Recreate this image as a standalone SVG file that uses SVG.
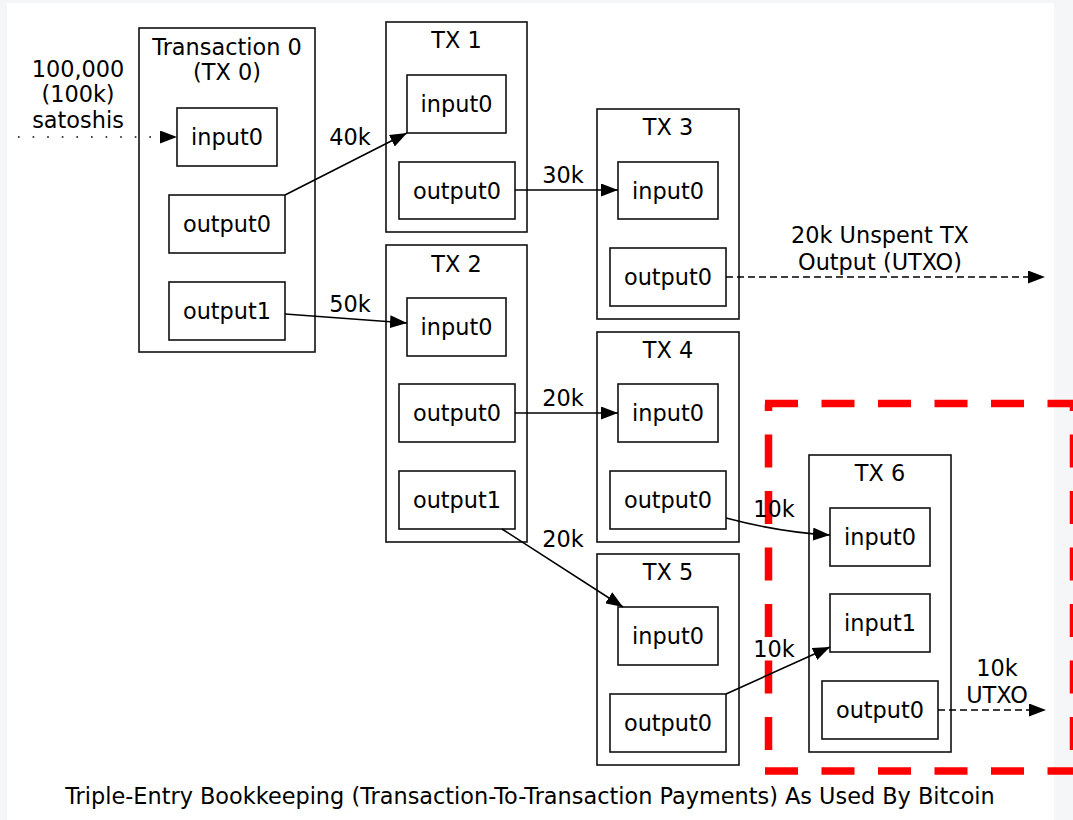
<svg xmlns="http://www.w3.org/2000/svg" width="1073" height="820" viewBox="0 0 1073 820">
  <defs>
    <marker id="arrow" markerUnits="userSpaceOnUse" viewBox="0 0 17 13" refX="17" refY="6.5" markerWidth="17" markerHeight="13" orient="auto">
      <path d="M0,0 L17,6.5 L0,13 z" fill="#000"/>
    </marker>
    <style>
      text { font-family: "DejaVu Sans", "Liberation Sans", sans-serif; font-size: 22.4px; fill: #000; }
      .c { text-anchor: middle; }
      .cluster { fill: none; stroke: #111; stroke-width: 1.6; }
      .port { fill: none; stroke: #111; stroke-width: 1.6; }
      .edge { fill: none; stroke: #000; stroke-width: 1.6; marker-end: url(#arrow); }
      .dashed { stroke-dasharray: 7 4; }
      .dotted { stroke-dasharray: 1.6 13; }
      .hl { fill: none; stroke: #ff0000; stroke-width: 7.5; stroke-dasharray: 33 23.5; }
    </style>
  </defs>

  <!-- canvas -->
  <rect x="0" y="0" width="1073" height="820" fill="#f5f6f8"/>
  <rect x="7" y="3" width="1047" height="817" fill="#fff"/>

  <!-- highlight frame around TX 6 -->
  <g id="highlight">
    <line class="hl" x1="765" y1="403.5" x2="1080" y2="403.5"/>
    <line class="hl" x1="765" y1="771" x2="1080" y2="771"/>
    <line class="hl" x1="768.5" y1="403.5" x2="768.5" y2="771" stroke-dashoffset="25.5"/>
    <line class="hl" x1="1073.5" y1="403.5" x2="1073.5" y2="771" stroke-dashoffset="25.5"/>
  </g>

  <!-- transactions -->
  <g id="tx0">
    <rect class="cluster" x="139" y="28" width="176" height="324"/>
    <text class="c" x="227" y="55">Transaction 0</text>
    <text class="c" x="227" y="80">(TX 0)</text>
    <rect class="port" x="177" y="108" width="100" height="58"/>
    <text class="c" x="227" y="145">input0</text>
    <rect class="port" x="169" y="195" width="116" height="58"/>
    <text class="c" x="227" y="232">output0</text>
    <rect class="port" x="169" y="282" width="116" height="58"/>
    <text class="c" x="227" y="319">output1</text>
  </g>

  <g id="tx1">
    <rect class="cluster" x="386" y="22" width="141" height="210"/>
    <text class="c" x="456.5" y="48">TX 1</text>
    <rect class="port" x="407" y="75" width="99" height="58"/>
    <text class="c" x="456.5" y="112">input0</text>
    <rect class="port" x="399" y="162" width="116" height="57"/>
    <text class="c" x="457" y="198.5">output0</text>
  </g>

  <g id="tx2">
    <rect class="cluster" x="386" y="245" width="141" height="297"/>
    <text class="c" x="456.5" y="272">TX 2</text>
    <rect class="port" x="407" y="298" width="99" height="58"/>
    <text class="c" x="456.5" y="335">input0</text>
    <rect class="port" x="399" y="384" width="116" height="58"/>
    <text class="c" x="457" y="421">output0</text>
    <rect class="port" x="399" y="471" width="116" height="58"/>
    <text class="c" x="457" y="508">output1</text>
  </g>

  <g id="tx3">
    <rect class="cluster" x="597" y="109" width="142" height="210"/>
    <text class="c" x="668" y="135">TX 3</text>
    <rect class="port" x="618" y="162" width="100" height="57"/>
    <text class="c" x="668" y="198.5">input0</text>
    <rect class="port" x="610" y="248" width="116" height="58"/>
    <text class="c" x="668" y="285">output0</text>
  </g>

  <g id="tx4">
    <rect class="cluster" x="597" y="332" width="142" height="210"/>
    <text class="c" x="668" y="358">TX 4</text>
    <rect class="port" x="618" y="384" width="100" height="58"/>
    <text class="c" x="668" y="421">input0</text>
    <rect class="port" x="610" y="471" width="116" height="58"/>
    <text class="c" x="668" y="508">output0</text>
  </g>

  <g id="tx5">
    <rect class="cluster" x="597" y="554" width="142" height="211"/>
    <text class="c" x="668" y="580">TX 5</text>
    <rect class="port" x="618" y="607" width="100" height="58"/>
    <text class="c" x="668" y="644">input0</text>
    <rect class="port" x="610" y="694" width="116" height="58"/>
    <text class="c" x="668" y="731">output0</text>
  </g>

  <g id="tx6">
    <rect class="cluster" x="809" y="455" width="142" height="297"/>
    <text class="c" x="880" y="481">TX 6</text>
    <rect class="port" x="830" y="508" width="100" height="58"/>
    <text class="c" x="880" y="545">input0</text>
    <rect class="port" x="830" y="594" width="100" height="58"/>
    <text class="c" x="880" y="631">input1</text>
    <rect class="port" x="822" y="681" width="116" height="58"/>
    <text class="c" x="880" y="718">output0</text>
  </g>

  <!-- payments between transactions -->
  <g id="connectors">
    <line class="edge dotted" x1="18" y1="137" x2="177" y2="137"/>
    <text class="c" x="78" y="77">100,000</text>
    <text class="c" x="78" y="102">(100k)</text>
    <text class="c" x="78" y="128">satoshis</text>

    <line class="edge" x1="285" y1="195" x2="407" y2="133"/>
    <text class="c" x="350" y="145">40k</text>

    <line class="edge" x1="285" y1="314" x2="407" y2="323"/>
    <text class="c" x="350" y="312">50k</text>

    <line class="edge" x1="515" y1="190" x2="618" y2="190"/>
    <text class="c" x="563" y="183">30k</text>

    <line class="edge dashed" x1="726" y1="277" x2="1045" y2="277"/>
    <text class="c" x="880" y="243">20k Unspent TX</text>
    <text class="c" x="880" y="270">Output (UTXO)</text>

    <line class="edge" x1="515" y1="413" x2="618" y2="413"/>
    <text class="c" x="563" y="406">20k</text>

    <line class="edge" x1="502" y1="529" x2="623" y2="607"/>
    <text class="c" x="563" y="547">20k</text>

    <path class="edge" d="M726,518 C760,527 792,533 830,535"/>
    <text class="c" x="774" y="517">10k</text>

    <line class="edge" x1="726" y1="694" x2="830" y2="647"/>
    <text class="c" x="774" y="657">10k</text>

    <line class="edge dashed" x1="938" y1="710" x2="1046" y2="710"/>
    <text class="c" x="997" y="676">10k</text>
    <text class="c" x="997" y="703">UTXO</text>
  </g>

  <text class="c" x="530" y="804">Triple-Entry Bookkeeping (Transaction-To-Transaction Payments) As Used By Bitcoin</text>
</svg>
